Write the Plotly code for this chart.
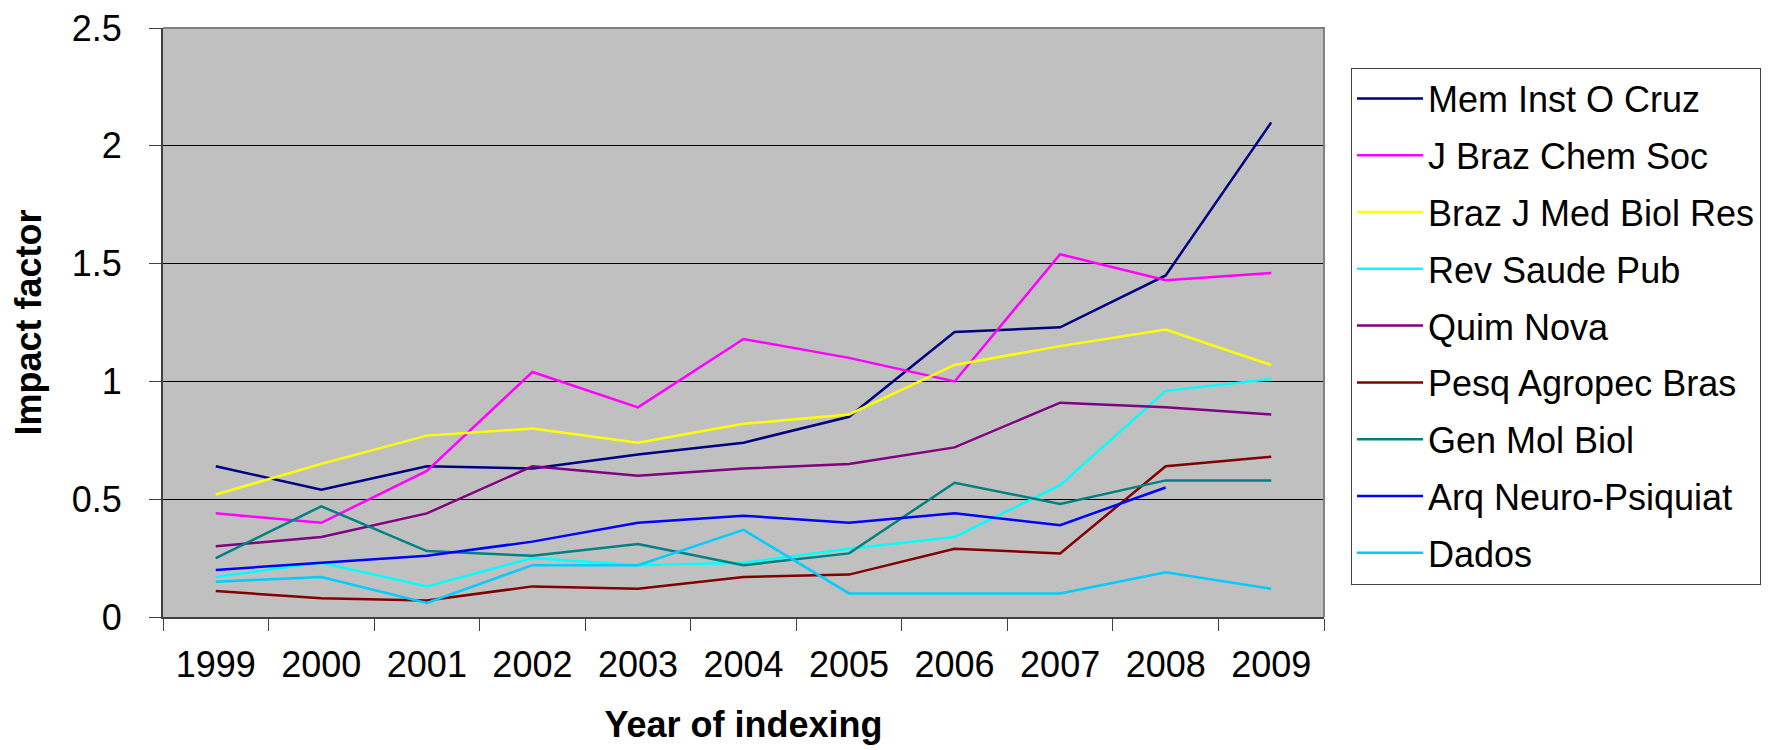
import plotly.graph_objects as go

years = ["1999", "2000", "2001", "2002", "2003", "2004", "2005", "2006", "2007", "2008", "2009"]

mem_inst_o_cruz = [0.64, 0.54, 0.64, 0.63, 0.69, 0.74, 0.85, 1.21, 1.23, 1.45, 2.10]
j_braz_chem_soc = [0.44, 0.40, 0.62, 1.04, 0.89, 1.18, 1.10, 1.00, 1.54, 1.43, 1.46]
braz_j_med_biol_res = [0.52, 0.65, 0.77, 0.80, 0.74, 0.82, 0.86, 1.07, 1.15, 1.22, 1.07]
rev_saude_pub = [0.17, 0.23, 0.13, 0.25, 0.22, 0.23, 0.29, 0.34, 0.56, 0.96, 1.01]
quim_nova = [0.30, 0.34, 0.44, 0.64, 0.60, 0.63, 0.65, 0.72, 0.91, 0.89, 0.86]
pesq_agropec_bras = [0.11, 0.08, 0.07, 0.13, 0.12, 0.17, 0.18, 0.29, 0.27, 0.64, 0.68]
gen_mol_biol = [0.25, 0.47, 0.28, 0.26, 0.31, 0.22, 0.27, 0.57, 0.48, 0.58, 0.58]
arq_neuro_psiquiat = [0.20, 0.23, 0.26, 0.32, 0.40, 0.43, 0.40, 0.44, 0.39, 0.55, None]
dados = [0.15, 0.17, 0.06, 0.22, 0.22, 0.37, 0.10, 0.10, 0.10, 0.19, 0.12]

series_names = ["Mem Inst O Cruz", "J Braz Chem Soc", "Braz J Med Biol Res", "Rev Saude Pub",
                "Quim Nova", "Pesq Agropec Bras", "Gen Mol Biol", "Arq Neuro-Psiquiat", "Dados"]
series_values = [mem_inst_o_cruz, j_braz_chem_soc, braz_j_med_biol_res, rev_saude_pub,
                 quim_nova, pesq_agropec_bras, gen_mol_biol, arq_neuro_psiquiat, dados]
series_colors = ["#000080", "#FF00FF", "#FFFF00", "#00FFFF", "#800080", "#800000",
                 "#008080", "#0000FF", "#00CCFF"]

y_ticks = [0, 0.5, 1, 1.5, 2, 2.5]
y_tick_labels = ["0", "0.5", "1", "1.5", "2", "2.5"]

FONT = "Liberation Sans, Arial, sans-serif"

fig = go.Figure()
for name, vals, col in zip(series_names, series_values, series_colors):
    fig.add_trace(go.Scatter(
        x=years, y=vals, name=name, mode="lines",
        line=dict(color=col, width=2.5),
        legendgroup=name, connectgaps=False,
    ))

L, R, T, B = 155, 1316, 20, 609
W, H = 1777, 750
LEG_LEFT, LEG_TOP = 1343, 59.5

fig.update_layout(
    width=W, height=H,
    margin=dict(l=L, r=W - R, t=T, b=H - B, pad=0, autoexpand=False),
    paper_bgcolor="white",
    plot_bgcolor="#C0C0C0",
    font=dict(family=FONT, size=36, color="black"),
    showlegend=True,
    legend=dict(
        x=(LEG_LEFT - L) / (R - L), y=(B - LEG_TOP) / (B - T),
        xanchor="left", yanchor="top",
        bgcolor="white", bordercolor="#404040", borderwidth=1,
        font=dict(family=FONT, size=36, color="black"),
        tracegroupgap=7, itemwidth=66,
    ),
    xaxis=dict(
        type="category",
        range=[-0.5, len(years) - 0.5],
        automargin=False,
        title=dict(text="<b>Year of indexing</b>", font=dict(family=FONT, size=36), standoff=28),
        showgrid=False,
        showline=True, linecolor="#404040", linewidth=2, mirror=False,
        ticks="outside", ticklen=12, tickwidth=1, tickcolor="#404040",
        tickson="boundaries",
        ticklabelstandoff=15,
        tickfont=dict(family=FONT, size=36),
        zeroline=False,
    ),
    yaxis=dict(
        range=[0, 2.5005],
        automargin=False,
        tickvals=y_ticks, ticktext=y_tick_labels,
        title=dict(text="<b>Impact factor</b>", font=dict(family=FONT, size=36), standoff=30),
        showgrid=True, gridcolor="black", gridwidth=1,
        showline=True, linecolor="#404040", linewidth=2, mirror=False,
        ticks="outside", ticklen=12, tickwidth=1, tickcolor="#404040",
        ticklabelstandoff=20,
        ticklabeloverflow="allow",
        tickfont=dict(family=FONT, size=36),
        zeroline=False,
    ),
    shapes=[dict(
        type="path", xref="paper", yref="paper",
        path="M 0,1 L 1,1 L 1,0",
        line=dict(color="#808080", width=2), layer="above",
    )],
)

fig.write_html("out.html")
